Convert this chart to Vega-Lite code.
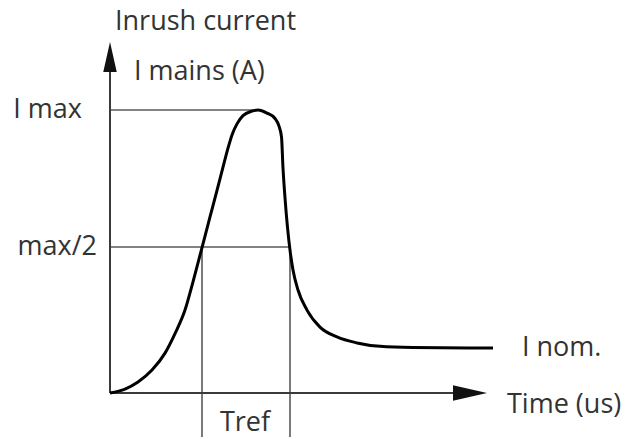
{
  "$schema": "https://vega.github.io/schema/vega-lite/v6.json",
  "width": 628,
  "height": 439,
  "autosize": {"type": "fit", "contains": "padding"},
  "padding": 0,
  "background": "white",
  "config": {"view": {"stroke": null}},
  "datasets": {
    "curve": [
      {"t": 0, "i": 0},
      {"t": 1.5, "i": 1.4},
      {"t": 2.8, "i": 3.9},
      {"t": 4.2, "i": 8.1},
      {"t": 5.5, "i": 14.1},
      {"t": 6.5, "i": 21.0},
      {"t": 7.5, "i": 29.3},
      {"t": 8.3, "i": 39.3},
      {"t": 9.0, "i": 48.7},
      {"t": 9.2, "i": 51.4},
      {"t": 10.0, "i": 62.2},
      {"t": 10.7, "i": 71.6},
      {"t": 11.3, "i": 79.8},
      {"t": 11.8, "i": 86.5},
      {"t": 12.2, "i": 91.2},
      {"t": 12.7, "i": 95.1},
      {"t": 13.3, "i": 98.0},
      {"t": 14.2, "i": 99.6},
      {"t": 14.8, "i": 100},
      {"t": 15.7, "i": 98.9},
      {"t": 16.5, "i": 97.0},
      {"t": 16.9, "i": 94.3},
      {"t": 17.15, "i": 90.5},
      {"t": 17.3, "i": 79.5},
      {"t": 17.5, "i": 69.0},
      {"t": 17.75, "i": 58.5},
      {"t": 18.0, "i": 50.5},
      {"t": 18.3, "i": 43.5},
      {"t": 18.8, "i": 36.4},
      {"t": 19.7, "i": 29.3},
      {"t": 21.0, "i": 23.3},
      {"t": 22.7, "i": 19.8},
      {"t": 24.7, "i": 17.7},
      {"t": 27.0, "i": 16.5},
      {"t": 30.3, "i": 16.1},
      {"t": 38.3, "i": 15.9}
    ],
    "axes": [
      {"t": 0, "i": 0, "t2": 0, "i2": 115},
      {"t": 0, "i": 0, "t2": 35, "i2": 0}
    ],
    "guides": [
      {"t": 0, "i": 100, "t2": 14.8, "i2": 100},
      {"t": 0, "i": 51.6, "t2": 18.0, "i2": 51.6},
      {"t": 9.2, "i": 51.6, "t2": 9.2, "i2": -15.5},
      {"t": 18.0, "i": 51.6, "t2": 18.0, "i2": -15.5}
    ],
    "arrowUp": [{"t": 0, "i": 118.7}],
    "arrowRight": [{"t": 36.0, "i": 0}],
    "labelsLeft": [
      {"label": "Inrush current", "t": 0.5, "i": 131.1},
      {"label": "I mains (A)", "t": 2.4, "i": 113.4},
      {"label": "I nom.", "t": 41.2, "i": 15.9},
      {"label": "Time (us)", "t": 39.7, "i": -4.2}
    ],
    "labelsRight": [
      {"label": "I max", "t": -2.8, "i": 100},
      {"label": "max/2", "t": -1.3, "i": 51.6}
    ],
    "labelsCenter": [
      {"label": "Tref", "t": 13.5, "i": -10.6}
    ]
  },
  "encoding": {
    "x": {"field": "t", "type": "quantitative", "axis": null,
          "scale": {"domain": [-11, 51.8], "nice": false, "zero": false}},
    "y": {"field": "i", "type": "quantitative", "axis": null,
          "scale": {"domain": [-16.25, 138.87], "nice": false, "zero": false}}
  },
  "layer": [
    {
      "data": {"name": "guides"},
      "mark": {"type": "rule", "color": "#5a5a5a", "strokeWidth": 1.6},
      "encoding": {"x2": {"field": "t2"}, "y2": {"field": "i2"}}
    },
    {
      "data": {"name": "axes"},
      "mark": {"type": "rule", "color": "#3a3a3a", "strokeWidth": 2},
      "encoding": {"x2": {"field": "t2"}, "y2": {"field": "i2"}}
    },
    {
      "data": {"name": "arrowUp"},
      "mark": {"type": "point", "filled": true, "color": "#111", "opacity": 1,
               "shape": "M0,-1L0.45,1L-0.45,1Z", "size": 900}
    },
    {
      "data": {"name": "arrowRight"},
      "mark": {"type": "point", "filled": true, "color": "#111", "opacity": 1,
               "shape": "M1,0L-1,-0.45L-1,0.45Z", "size": 1156}
    },
    {
      "data": {"name": "curve"},
      "mark": {"type": "line", "color": "#000", "strokeWidth": 3, "interpolate": "monotone"}
    },
    {
      "data": {"name": "labelsLeft"},
      "mark": {"type": "text", "align": "left", "baseline": "middle", "font": "Open Sans", "fontSize": 27, "color": "#333"},
      "encoding": {"text": {"field": "label"}}
    },
    {
      "data": {"name": "labelsRight"},
      "mark": {"type": "text", "align": "right", "baseline": "middle", "font": "Open Sans", "fontSize": 27, "color": "#333"},
      "encoding": {"text": {"field": "label"}}
    },
    {
      "data": {"name": "labelsCenter"},
      "mark": {"type": "text", "align": "center", "baseline": "middle", "font": "Open Sans", "fontSize": 27, "color": "#333"},
      "encoding": {"text": {"field": "label"}}
    }
  ]
}
